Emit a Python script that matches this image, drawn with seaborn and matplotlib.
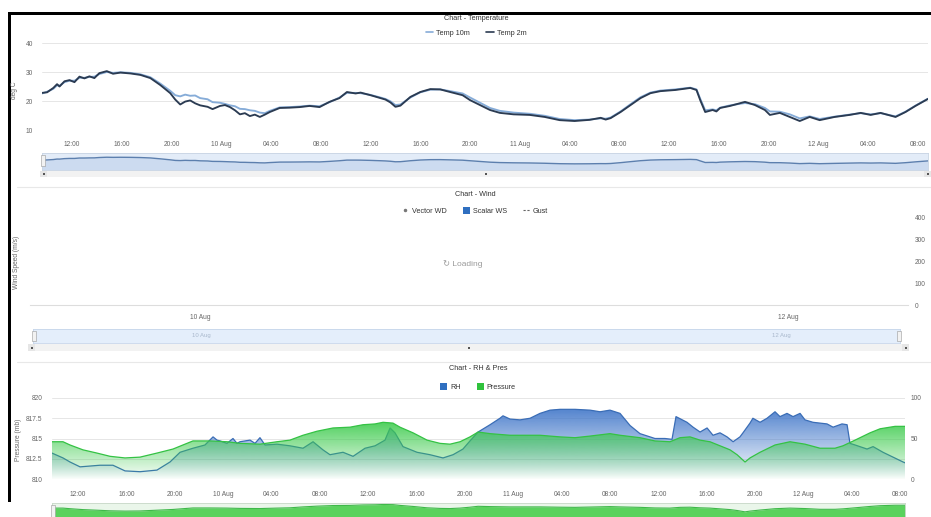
import numpy as np
import pandas as pd
import matplotlib
matplotlib.use("Agg")
import matplotlib.pyplot as plt
import matplotlib.colors as mcolors
from matplotlib.patches import Polygon, Rectangle
from matplotlib.lines import Line2D
import seaborn as sns

sns.set_style("white")
plt.rcParams['font.family'] = ['Liberation Sans', 'DejaVu Sans']

W, H = 931, 517

# ---------------- data ----------------
tick_hours = [12, 16, 20, 24, 28, 32, 36, 40, 44, 48, 52, 56, 60, 64, 68, 72, 76, 80]
tick_labels = ["12:00", "16:00", "20:00", "10 Aug", "04:00", "08:00", "12:00", "16:00", "20:00",
               "11 Aug", "04:00", "08:00", "12:00", "16:00", "20:00", "12 Aug", "04:00", "08:00"]

temp_hours = [9.6, 10.0, 10.5, 10.8, 11.0, 11.4, 11.8, 12.2, 12.6, 13.0,
              13.4, 13.8, 14.2, 14.8, 15.3, 15.9, 16.7, 17.5, 18.3, 19.1,
              19.9, 20.3, 20.7, 21.1, 21.5, 21.9, 22.3, 22.9, 23.3, 23.9,
              24.3, 24.7, 25.1, 25.5, 25.9, 26.3, 26.7, 27.1, 27.5, 27.9,
              28.7, 29.5, 30.3, 31.1, 31.9, 32.7, 33.5, 34.1, 34.8, 35.2,
              36.0, 36.8, 37.2, 37.6, 38.0, 38.4, 39.2, 40.0, 40.8, 41.6,
              42.4, 43.4, 44.0, 44.8, 45.6, 46.4, 47.5, 48.8, 50.0, 51.2,
              52.4, 53.6, 54.5, 54.9, 55.3, 56.1, 56.9, 57.7, 58.5, 59.3,
              60.5, 61.7, 62.2, 62.5, 62.9, 63.5, 63.8, 64.1, 64.9, 66.1,
              66.9, 67.7, 68.1, 68.9, 69.7, 70.5, 71.3, 72.1, 73.3, 74.5,
              75.4, 76.2, 77.0, 78.2, 79.0, 79.8, 80.8]
temp_2m = [22.8, 23.0, 24.5, 25.8, 25.0, 26.8, 27.2, 26.5, 28.4, 27.8,
           28.5, 27.9, 29.6, 30.3, 29.4, 29.8, 29.5, 29.0, 27.9, 25.5,
           22.7, 20.5, 18.8, 19.8, 20.2, 19.2, 18.5, 18.0, 17.2, 18.3,
           18.6, 17.9, 16.8, 15.4, 15.8, 14.8, 15.3, 14.5, 15.3, 16.2,
           17.6, 17.7, 17.9, 18.3, 17.9, 19.7, 21.0, 23.1, 22.6, 22.9,
           22.0, 21.0, 20.5, 19.5, 18.0, 18.4, 21.4, 23.1, 24.1, 24.0,
           23.1, 22.0, 20.3, 18.6, 16.9, 15.9, 15.4, 15.2, 14.5, 13.4,
           13.1, 13.5, 14.2, 13.6, 14.1, 16.2, 18.6, 21.0, 22.7, 23.4,
           23.8, 24.5, 23.8, 20.3, 16.2, 16.9, 16.4, 17.6, 18.3, 19.7,
           18.6, 16.9, 15.2, 15.9, 14.5, 13.1, 14.5, 13.4, 14.5, 15.2,
           15.9, 15.2, 15.9, 14.5, 16.2, 18.3, 20.7]
temp_10m = [22.6, 23.2, 24.2, 25.4, 25.3, 26.5, 27.0, 27.0, 28.0, 28.0,
            28.3, 28.4, 29.3, 30.0, 29.7, 29.9, 29.7, 29.2, 28.2, 26.0,
            23.5, 22.0, 21.6, 22.2, 21.8, 21.9, 21.0, 20.6, 19.6, 19.4,
            19.0, 18.5, 18.2, 17.3, 17.2, 16.8, 16.6, 16.0, 15.8, 16.6,
            17.8, 17.9, 18.1, 18.4, 18.2, 19.6, 21.2, 22.8, 22.8, 22.7,
            22.1, 21.2, 20.7, 19.9, 18.6, 18.8, 21.2, 23.0, 23.9, 24.0,
            23.4, 22.6, 21.2, 19.4, 17.6, 16.6, 16.0, 15.6, 14.9, 13.8,
            13.4, 13.6, 14.0, 13.9, 14.3, 16.4, 18.9, 21.3, 22.9, 23.6,
            24.0, 24.6, 24.0, 20.8, 16.8, 17.1, 16.8, 17.7, 18.5, 19.3,
            18.9, 17.6, 16.4, 16.3, 15.4, 14.0, 14.7, 13.8, 14.6, 15.3,
            15.8, 15.4, 15.8, 14.7, 16.3, 18.4, 20.8]

pres_hours = [9.85, 10.76, 11.34, 12.41, 13.57, 14.65, 15.89, 17.13, 18.53, 19.86,
              20.68, 21.51, 22.92, 24.32, 25.40, 27.05, 28.46, 29.53, 30.61, 31.77,
              33.09, 34.50, 35.57, 36.57, 37.23, 38.05, 38.63, 39.71, 40.87, 41.94,
              42.77, 43.60, 44.42, 45.09, 46.08, 47.73, 50.21, 51.87, 53.11, 54.35,
              56.00, 56.83, 58.48, 59.72, 60.96, 61.79, 62.62, 63.45, 64.27, 65.10,
              65.93, 66.51, 67.17, 67.58, 68.41, 69.65, 70.89, 72.13, 73.37, 74.61,
              75.27, 76.27, 77.51, 78.34, 79.58, 80.40]
pressure = [814.6, 814.6, 814.2, 813.6, 813.2, 812.8, 812.6, 812.7, 813.2, 813.7,
            814.2, 814.7, 814.7, 814.6, 814.4, 814.3, 814.6, 814.8, 815.4, 815.9,
            816.3, 816.4, 816.7, 816.8, 817.0, 816.9, 816.4, 815.7, 814.8, 814.4,
            814.3, 814.6, 815.2, 815.8, 815.6, 815.4, 815.4, 815.2, 815.1, 815.3,
            815.6, 815.4, 815.1, 814.7, 814.6, 815.1, 815.2, 814.8, 814.6, 814.1,
            813.6, 813.0, 812.1, 812.6, 813.3, 814.2, 814.6, 814.3, 813.8, 813.8,
            814.1, 814.8, 815.7, 816.2, 816.5, 816.5]

rh_hours = [9.85, 10.76, 11.34, 12.17, 12.99, 13.82, 14.89, 15.89, 17.13, 18.53,
            19.61, 20.44, 21.51, 22.50, 23.17, 23.50, 23.75, 24.32, 24.82, 25.15,
            25.40, 26.23, 26.64, 27.05, 27.47, 28.46, 29.53, 30.61, 31.44, 32.26,
            32.84, 33.92, 34.75, 35.74, 36.57, 37.39, 37.81, 38.22, 38.88, 40.04,
            41.11, 42.19, 43.02, 43.84, 44.42, 45.09, 46.08, 46.90, 47.15, 47.73,
            48.56, 49.39, 50.21, 51.04, 51.87, 53.11, 54.35, 55.18, 56.00, 56.83,
            57.66, 58.48, 59.31, 59.72, 60.55, 61.13, 61.46, 62.37, 62.87, 63.45,
            64.03, 64.52, 65.10, 65.68, 66.18, 66.75, 67.00, 67.58, 67.82, 68.41,
            68.99, 69.65, 70.06, 70.64, 71.14, 71.72, 72.13, 72.79, 73.37, 73.95,
            74.45, 75.19, 75.61, 75.85, 76.27, 77.26, 77.76, 78.58, 79.41, 80.24,
            80.40]
rh = [32, 26, 21, 15, 16, 17, 17, 10, 9, 11,
      21, 33, 38, 42, 52, 48, 47, 44, 50, 44,
      46, 48, 44, 51, 42, 43, 41, 38, 46, 36,
      30, 33, 28, 38, 41, 48, 63, 57, 40, 33,
      30, 26, 30, 37, 47, 58, 67, 75, 78, 74,
      73, 75, 81, 85, 86, 86, 85, 83, 85, 81,
      66, 56, 52, 50, 50, 49, 77, 70, 64, 58,
      63, 54, 57, 52, 46, 52, 57, 69, 75, 70,
      75, 83, 77, 81, 77, 81, 73, 70, 69, 68,
      64, 68, 67, 44, 42, 37, 40, 33, 27, 21,
      20]

temp_y_ticks = [10, 20, 30, 40]
wind_tick_hours = [24, 72]
wind_tick_labels = ["10 Aug", "12 Aug"]
wind_y_ticks = [0, 100, 200, 300, 400]
pres_ticks = [810, 812.5, 815, 817.5, 820]
rh_ticks = [0, 50, 100]

# ---------------- styling ----------------
C_T10 = "#86acd8"
C_T2 = "#2b3b52"
C_RH = "#3a6db6"
C_PRES = "#34c244"
TICK_C = "#666666"
TITLE_C = "#333333"
GRID_C = "#e6e6e6"
FS_TICK = 4.8
FS_TITLE = 5.2

fig = plt.figure(figsize=(W / 100, H / 100), dpi=100)
fig.patch.set_facecolor("white")


def px_axes(x0, y0, x1, y1, **kw):
    return fig.add_axes([x0 / W, 1 - y1 / H, (x1 - x0) / W, (y1 - y0) / H], **kw)


def ftext(x, y, s, **kw):
    kw.setdefault("ha", "center")
    kw.setdefault("va", "center")
    return fig.text(x / W, 1 - y / H, s, **kw)


def frect(x0, y0, x1, y1, color, **kw):
    r = Rectangle((x0 / W, 1 - y1 / H), (x1 - x0) / W, (y1 - y0) / H,
                  transform=fig.transFigure, facecolor=color, edgecolor=kw.pop("ec", "none"),
                  linewidth=kw.pop("lw", 0), **kw)
    fig.add_artist(r)
    return r


def fline(x0, y0, x1, y1, color, lw=0.8):
    fig.add_artist(Line2D([x0 / W, x1 / W], [1 - y0 / H, 1 - y1 / H],
                          transform=fig.transFigure, color=color, lw=lw))


def clean(ax):
    for s in ax.spines.values():
        s.set_visible(False)


def gradient_area(ax, xs, ys, base, top, color, a_top, a_bot, z):
    xs = np.asarray(xs, float)
    ys = np.asarray(ys, float)
    verts = np.column_stack([np.r_[xs, xs[-1], xs[0]], np.r_[ys, base, base]])
    poly = Polygon(verts, closed=True, facecolor="none", edgecolor="none",
                   transform=ax.transData)
    ax.add_patch(poly)
    grad = np.zeros((256, 1, 4))
    grad[..., :3] = mcolors.to_rgb(color)
    grad[:, 0, 3] = np.linspace(a_bot, a_top, 256)
    im = ax.imshow(grad, aspect="auto", origin="lower",
                   extent=[xs.min(), xs.max(), base, top], zorder=z,
                   interpolation="bilinear")
    im.set_clip_path(poly)


def nav_handle(x, y0, y1):
    frect(x - 2, y0, x + 2, y1, "#f2f2f2", ec="#999999", lw=0.4)


def scrollbar(x0, x1, y0, y1):
    frect(x0, y0, x1, y1, "#f2f2f2")
    frect(x0, y0, x0 + 7, y1, "#e6e6e6")
    frect(x1 - 7, y0, x1, y1, "#e6e6e6")
    cy = (y0 + y1) / 2
    for cx in (x0 + 3.5, x1 - 3.5, (x0 + x1) / 2):
        frect(cx - 1, cy - 1, cx + 1, cy + 1, "#555555")


# ---------------- frame ----------------
frect(8, 12, 931, 15, "black")
frect(8, 12, 11, 502, "black")
fline(17, 187, 931, 187, "#e8e8e8", 0.8)
fline(17, 362, 931, 362, "#e8e8e8", 0.8)

# ================= Temperature chart =================
ftext(476, 18, "Chart - Temperature", fontsize=FS_TITLE, color=TITLE_C)
ax_t = px_axes(42, 43, 928, 130)
n = len(temp_hours)
df_t = pd.DataFrame({"hour": temp_hours * 2,
                     "temp": temp_10m + temp_2m,
                     "series": ["Temp 10m"] * n + ["Temp 2m"] * n})
sns.lineplot(data=df_t, x="hour", y="temp", hue="series",
             hue_order=["Temp 10m", "Temp 2m"],
             palette={"Temp 10m": C_T10, "Temp 2m": C_T2},
             ax=ax_t, linewidth=1.35, legend=False, estimator=None, sort=False)
ax_t.set_xlim(9.59, 80.81)
ax_t.set_ylim(10, 40)
ax_t.set_yticks(temp_y_ticks)
ax_t.set_xticks(tick_hours)
ax_t.set_xticklabels(tick_labels)
ax_t.set_xlabel("")
ax_t.set_ylabel("")
clean(ax_t)
ax_t.yaxis.grid(True, color=GRID_C, lw=0.7)
ax_t.tick_params(axis="x", length=0, pad=7.8, labelsize=FS_TICK, labelcolor=TICK_C)
ax_t.tick_params(axis="y", length=0, pad=6.5, labelsize=FS_TICK, labelcolor=TICK_C)
ftext(15, 90, "deg C", rotation=90, fontsize=FS_TICK, color=TICK_C)

fig.legend(handles=[Line2D([], [], color=C_T10, lw=1.2), Line2D([], [], color=C_T2, lw=1.2)],
           labels=["Temp 10m", "Temp 2m"], loc="center",
           bbox_to_anchor=(476 / W, 1 - 33 / H), ncol=2, frameon=False,
           fontsize=FS_TITLE, handlelength=1.1, handletextpad=0.4,
           columnspacing=2.2, labelcolor=TITLE_C)

# navigator
ax_tn = px_axes(42, 153, 928, 170)
ax_tn.set_facecolor("#e3ecf8")
ax_tn.fill_between(temp_hours, temp_10m, -2, color="#c3d5ed", alpha=0.7, lw=0)
sns.lineplot(x=temp_hours, y=temp_10m, ax=ax_tn, color="#5c7fae", linewidth=1.0,
             estimator=None, sort=False)
ax_tn.set_xlim(9.59, 80.81)
ax_tn.set_ylim(-2, 40.6)
ax_tn.set_xticks([])
ax_tn.set_yticks([])
for s in ax_tn.spines.values():
    s.set_color("#c8d4e3")
    s.set_linewidth(0.6)
nav_handle(43, 155, 166)
scrollbar(40, 931, 171, 177)

# ================= Wind chart =================
ftext(475, 195, "Chart - Wind", fontsize=FS_TITLE, color=TITLE_C)
fig.legend(handles=[Line2D([], [], marker="o", ls="none", color="#777777", markersize=1.5),
                    Rectangle((0, 0), 1, 1, facecolor="#2f6fc0", edgecolor="none"),
                    Line2D([], [], color="#666666", lw=0.8, ls=(0, (2, 1.5)))],
           labels=["Vector WD", "Scalar WS", "Gust"], loc="center",
           bbox_to_anchor=(475 / W, 1 - 211 / H), ncol=3, frameon=False,
           fontsize=FS_TITLE, handlelength=1.0, handleheight=1.1, handletextpad=0.4,
           columnspacing=2.2, labelcolor=TITLE_C)
ax_w = px_axes(30, 218, 908, 305)
ax_w.set_xlim(10.06, 81.8)
ax_w.set_ylim(0, 400)
ax_w.yaxis.tick_right()
ax_w.set_yticks(wind_y_ticks)
ax_w.set_xticks(wind_tick_hours)
ax_w.set_xticklabels(wind_tick_labels)
clean(ax_w)
ax_w.spines["bottom"].set_visible(True)
ax_w.spines["bottom"].set_color("#dddddd")
ax_w.spines["bottom"].set_linewidth(0.8)
ax_w.tick_params(axis="x", length=0, pad=6.8, labelsize=FS_TICK, labelcolor=TICK_C)
ax_w.tick_params(axis="y", length=0, pad=5.0, labelsize=FS_TICK, labelcolor=TICK_C)
ftext(17, 262, "Wind Speed (m/s)", rotation=90, fontsize=FS_TICK, color=TICK_C)
ftext(463, 264, "\u21bb Loading", fontsize=6.0, color="#9a9a9a")

ax_wn = px_axes(33, 329, 900, 343)
ax_wn.set_facecolor("#e4eefb")
ax_wn.set_xlim(10.06, 81.8)
ax_wn.set_ylim(0, 1)
ax_wn.set_xticks([])
ax_wn.set_yticks([])
for s in ax_wn.spines.values():
    s.set_color("#c6d5ea")
    s.set_linewidth(0.6)
for hx, lab in zip(wind_tick_hours, wind_tick_labels):
    ax_wn.text(hx, 0.5, lab, ha="center", va="center", fontsize=4.3, color="#a9b8cc")
nav_handle(34, 331, 341)
nav_handle(899, 331, 341)
scrollbar(28, 909, 344, 351)

# ================= RH & Pressure chart =================
ftext(478, 368, "Chart - RH & Pres", fontsize=FS_TITLE, color=TITLE_C)
fig.legend(handles=[Rectangle((0, 0), 1, 1, facecolor="#2f6fc0", edgecolor="none"),
                    Rectangle((0, 0), 1, 1, facecolor="#2fc23c", edgecolor="none")],
           labels=["RH", "Pressure"], loc="center",
           bbox_to_anchor=(478 / W, 1 - 387 / H), ncol=2, frameon=False,
           fontsize=FS_TITLE, handlelength=1.0, handleheight=1.1, handletextpad=0.4,
           columnspacing=2.2, labelcolor=TITLE_C)

ax_rh = px_axes(52, 398, 905, 479)
ax_p = ax_rh.twinx()
ax_rh.yaxis.tick_right()
ax_p.yaxis.tick_left()
ax_p.yaxis.set_label_position("left")

# RH (right axis)
gradient_area(ax_rh, rh_hours, rh, 0, 90, "#3d74c8", 0.92, 0.0, 1)
sns.lineplot(x=rh_hours, y=rh, ax=ax_rh, color=C_RH, linewidth=0.9,
             estimator=None, sort=False)
# Pressure (left axis), drawn above RH
gradient_area(ax_p, pres_hours, pressure, 810, 817.5, "#3ccb4c", 0.95, 0.02, 1)
sns.lineplot(x=pres_hours, y=pressure, ax=ax_p, color=C_PRES, linewidth=0.9,
             estimator=None, sort=False)

for a in (ax_rh, ax_p):
    a.set_xlim(9.85, 80.4)
    a.set_xlabel("")
    a.set_ylabel("")
    clean(a)
ax_rh.set_ylim(0, 100)
ax_p.set_ylim(810, 820)
ax_rh.set_yticks(rh_ticks)
ax_rh.set_yticks([25, 75], minor=True)
ax_p.set_yticks(pres_ticks)
ax_p.set_yticklabels([f"{v:g}" for v in pres_ticks])
ax_rh.set_xticks(tick_hours)
ax_rh.set_xticklabels(tick_labels)
ax_p.tick_params(axis="x", which="both", bottom=False, labelbottom=False)
ax_rh.yaxis.grid(True, which="both", color=GRID_C, lw=0.7)
ax_rh.set_axisbelow(True)
ax_rh.tick_params(axis="x", length=0, pad=8.8, labelsize=FS_TICK, labelcolor=TICK_C)
ax_rh.tick_params(axis="y", which="both", length=0, pad=4.3, labelsize=FS_TICK, labelcolor=TICK_C)
ax_p.tick_params(axis="y", length=0, pad=7.0, labelsize=FS_TICK, labelcolor=TICK_C)
ftext(18, 440, "Pressure (mb)", rotation=90, fontsize=FS_TICK, color=TICK_C)

# navigator (cut off at bottom)
ax_rn = px_axes(52, 503, 905, 530)
ax_rn.set_facecolor("#eaf6ea")
ax_rn.fill_between(pres_hours, pressure, 800, color="#5ad25d", lw=0)
sns.lineplot(x=pres_hours, y=pressure, ax=ax_rn, color="#3fb84a", linewidth=0.8,
             estimator=None, sort=False)
ax_rn.set_xlim(9.85, 80.4)
ax_rn.set_ylim(800, 818)
ax_rn.set_xticks([])
ax_rn.set_yticks([])
ax_rn.set_xlabel("")
ax_rn.set_ylabel("")
for s in ax_rn.spines.values():
    s.set_color("#c8d8c8")
    s.set_linewidth(0.6)
nav_handle(53, 505, 517)

fig.savefig("out.png", dpi=100, facecolor="white")
